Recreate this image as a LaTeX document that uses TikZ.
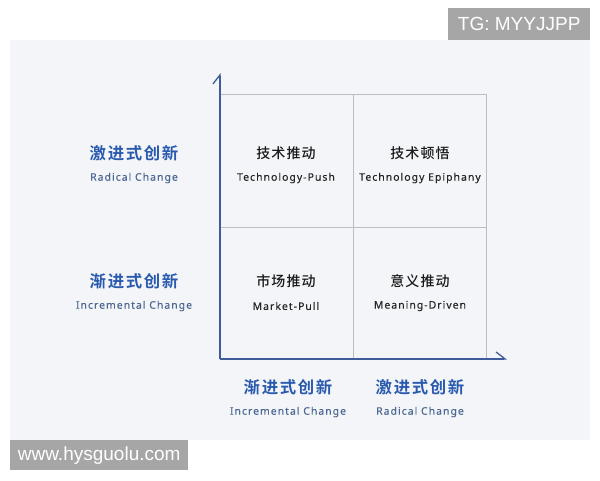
\documentclass[tikz,border=0pt]{standalone}
\usepackage{fontspec}
\setmainfont{Noto Sans CJK SC}
\newfontfamily\cjkbold{Noto Sans CJK SC Bold}[LetterSpace=10]
\newfontfamily\cjkcell{Noto Sans CJK SC Medium}[LetterSpace=8]
\newfontfamily\latinsp{Noto Sans}[LetterSpace=10,FakeBold=0.2]
\newfontfamily\wmark{Liberation Sans}
\usetikzlibrary{arrows.meta,positioning}
\definecolor{panelbg}{HTML}{F3F5F9}
\definecolor{axisblue}{HTML}{3E5B9A}
\definecolor{titleblue}{HTML}{2A5AAE}
\definecolor{subblue}{HTML}{4C6894}
\definecolor{gridgrey}{HTML}{B9BDC6}
\definecolor{markgrey}{HTML}{A6A6A6}
\tikzstyle{axis} = [line width=1.3pt,axisblue,-{Straight Barb[harpoon,length=9pt,width=14pt,line width=1.3pt]}]
\tikzstyle{gridline} = [line width=0.9pt,gridgrey]
\tikzstyle{celltitle} = [font=\cjkcell\fontsize{14}{16}\selectfont,text=black!90,inner sep=0pt]
\tikzstyle{cellsub} = [font=\latinsp\fontsize{10.4}{12}\selectfont,text=black!85,inner sep=0pt]
\tikzstyle{axistitle} = [font=\cjkbold\fontsize{16.4}{18}\selectfont,text=titleblue,inner sep=0pt]
\tikzstyle{axissub} = [font=\latinsp\fontsize{10.4}{12}\selectfont,text=subblue,inner sep=0pt]
\tikzstyle{markbox} = [fill=markgrey,text=white,font=\wmark\fontsize{19}{21}\selectfont,inner xsep=6pt,inner ysep=0pt,anchor=north west]

\begin{document}
\begin{tikzpicture}[x=1pt,y=-1pt,node distance=25pt]
        \useasboundingbox (0,0) rectangle (600,480);
        \fill[panelbg] (10,40) rectangle (590,440);
        % watermarks
        \node (tg) [markbox,minimum width=142pt,minimum height=32pt] at (448,8) {TG: MYYJJPP};
        \node (www) [markbox,minimum width=178pt,minimum height=30pt] at (10,440) {www.hysguolu.com};
        % grid
        \coordinate (origin) at (220,359);
        \coordinate (ytip) at (220,73);
        \coordinate (xtip) at (507,359);
        \draw [gridline] (220,94) -- (486,94) -- (486,359);
        \draw [gridline] (353,94) -- (353,359);
        \draw [gridline] (220,227) -- (486,227);
        \draw [axis] (origin) -- (ytip);
        \draw [axis] (origin) -- (xtip);
        % cells
        \node (push) [celltitle] at (286,153) {技术推动};
        \node (push-en) [cellsub,below of=push] {Technology-Push};
        \node (epiph) [celltitle] at (420,153) {技术顿悟};
        \node (epiph-en) [cellsub,below of=epiph] {Technology Epiphany};
        \node (pull) [celltitle] at (286,281) {市场推动};
        \node (pull-en) [cellsub,below of=pull] {Market-Pull};
        \node (mean) [celltitle] at (420,281) {意义推动};
        \node (mean-en) [cellsub,below of=mean] {Meaning-Driven};
        % left axis labels
        \node (y-rad) [axistitle] at (134,153) {激进式创新};
        \node (y-rad-en) [axissub,below of=y-rad] {Radical Change};
        \node (y-inc) [axistitle] at (134,281) {渐进式创新};
        \node (y-inc-en) [axissub,below of=y-inc] {Incremental Change};
        % bottom axis labels
        \node (x-inc) [axistitle] at (288,387) {渐进式创新};
        \node (x-inc-en) [axissub,below of=x-inc] {Incremental Change};
        \node (x-rad) [axistitle] at (420,387) {激进式创新};
        \node (x-rad-en) [axissub,below of=x-rad] {Radical Change};
    \end{tikzpicture}
\end{document}
